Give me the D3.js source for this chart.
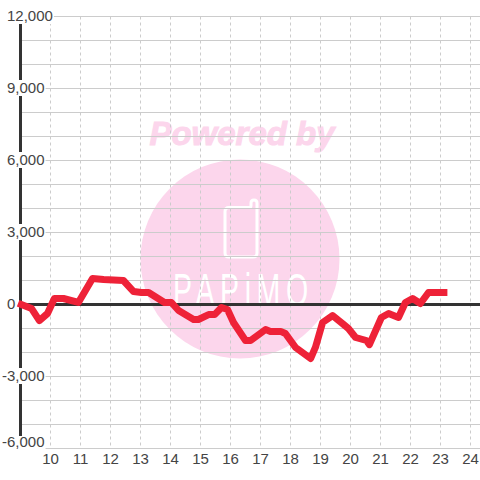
<!DOCTYPE html>
<html>
<head>
<meta charset="utf-8">
<script src="https://cdn.jsdelivr.net/npm/d3@7"></script>
<style>
  html, body { margin: 0; padding: 0; background: #fff; }
  svg { display: block; }
  text { font-family: "Liberation Sans", Arial, sans-serif; }
</style>
</head>
<body>
<div class="chart"></div>
<script>
// hours of the day (decimal) and the running value at each one
const hours = [8.92, 9.37, 9.63, 9.9, 10.13, 10.43, 10.93, 11.4, 11.77, 12.43, 12.77, 13.03, 13.27, 13.8, 14.03,
  14.27, 14.77, 14.93, 15.27, 15.47, 15.7, 15.9, 16.1, 16.5, 16.67, 17.17, 17.33, 17.67, 17.83, 18.17, 18.67,
  18.83, 19.07, 19.4, 19.73, 19.93, 20.17, 20.53, 20.63, 21.03, 21.27, 21.6, 21.83, 22.07, 22.33, 22.6, 23.23]
const values = [50, -170, -670, -375, 250, 250, 85, 1080, 1040, 1000, 540, 500, 500, 85, 85,
  -250, -625, -625, -420, -420, -125, -210, -750, -1500, -1500, -1040, -1120, -1120, -1210, -1790, -2250,
  -1790, -750, -460, -790, -1000, -1375, -1500, -1670, -540, -375, -540, 85, 250, 40, 500, 500]

const yMajor = [-6000, -3000, 0, 3000, 6000, 9000, 12000]
const yMinor = d3.range(-6000, 12001, 1000)
const xTicks = d3.range(10, 25)

const width = 480
const height = 480

const x = d3.scaleLinear().domain([9, 25]).range([20.5, 500.5])
const y = d3.scaleLinear().domain([-6000, 12000]).range([448.5, 16.5])

const svg = d3.select('.chart').append('svg')
  .attr('width', width)
  .attr('height', height)

// watermark sits under everything
const mark = svg.append('g')
mark.append('circle')
  .attr('cx', 240).attr('cy', 259).attr('r', 99.5)
  .attr('fill', '#fcd6ec')
mark.append('text')
  .attr('x', 242).attr('y', 145)
  .attr('text-anchor', 'middle')
  .attr('font-size', 33).attr('font-weight', 'bold').attr('font-style', 'italic')
  .attr('fill', '#fcd6ec').attr('stroke', '#fcd6ec').attr('stroke-width', 1)
  .text('Powered by')
mark.append('path')
  .attr('d', 'M229 207.5H249Q251 207.5 251 205.5V203Q251 200 254 200Q257 200 257 203V253Q257 257 253 257H229Q225 257 225 253V211.5Q225 207.5 229 207.5Z')
  .attr('fill', 'none').attr('stroke', '#fff').attr('stroke-width', 3)
mark.append('text')
  .attr('transform', 'translate(173,306) scale(0.62,1)')
  .attr('font-size', 46)
  .attr('letter-spacing', 9)
  .attr('fill', '#fff')
  .text('PAPiMO')

// grid
svg.append('g')
  .attr('class', 'grid-y')
  .attr('transform', 'translate(20.5,0)')
  .call(d3.axisRight(y).offset(0).tickValues(yMinor).tickSize(460).tickFormat(''))
  .call(g => g.select('.domain').remove())
  .call(g => g.selectAll('line').attr('stroke', '#ccc'))

svg.append('g')
  .attr('class', 'grid-x')
  .attr('transform', 'translate(0,16.5)')
  .call(d3.axisBottom(x).offset(0).tickValues(xTicks).tickSize(432).tickFormat(''))
  .call(g => g.select('.domain').remove())
  .call(g => g.selectAll('line').attr('stroke', '#ccc').attr('stroke-dasharray', '3,3'))

// axis lines
svg.append('line')
  .attr('x1', x(9)).attr('x2', x(9))
  .attr('y1', y(12000)).attr('y2', y(-6000))
  .attr('stroke', '#333').attr('stroke-width', 3)
svg.append('line')
  .attr('x1', x(9)).attr('x2', width)
  .attr('y1', y(0)).attr('y2', y(0))
  .attr('stroke', '#333').attr('stroke-width', 3)

// x labels
svg.append('g')
  .attr('class', 'axis-x')
  .attr('transform', 'translate(0,448.5)')
  .call(d3.axisBottom(x).offset(0).tickValues(xTicks).tickSize(0).tickPadding(5))
  .call(g => g.select('.domain').remove())
  .call(g => g.selectAll('text')
    .attr('font-size', 15).attr('font-family', null).attr('fill', '#444'))

// y labels, each on a white plate that cuts the grid and the axis
const yAxis = svg.append('g')
  .attr('class', 'axis-y')
  .call(d3.axisRight(y).offset(0).tickValues(yMajor).tickSize(0).tickPadding(0)
    .tickFormat(d => d3.format(',')(d).replace('\u2212', '-')))
yAxis.select('.domain').remove()
yAxis.selectAll('.tick text')
  .attr('font-size', 15).attr('font-family', null).attr('fill', '#444')
  .attr('x', d => (d < 0 ? 2 : 7))
  .attr('y', d => (d === -6000 ? -6 : 0))
yAxis.selectAll('.tick').each(function(d) {
  const tick = d3.select(this)
  const box = tick.select('text').node().getBBox()
  tick.insert('rect', 'text')
    .attr('x', 0)
    .attr('y', d === -6000 ? -12.5 : -8.5)
    .attr('width', box.x + box.width + 1)
    .attr('height', d === -6000 ? 13.5 : 16)
    .attr('fill', '#fff')
})

const line = d3.line()
  .x((d, i) => x(hours[i]))
  .y(d => y(d))

svg.append('path')
  .datum(values)
  .attr('fill', 'none')
  .attr('stroke', '#ee2238')
  .attr('stroke-width', 7)
  .attr('stroke-linejoin', 'round')
  .attr('d', line)
</script>
</body>
</html>
